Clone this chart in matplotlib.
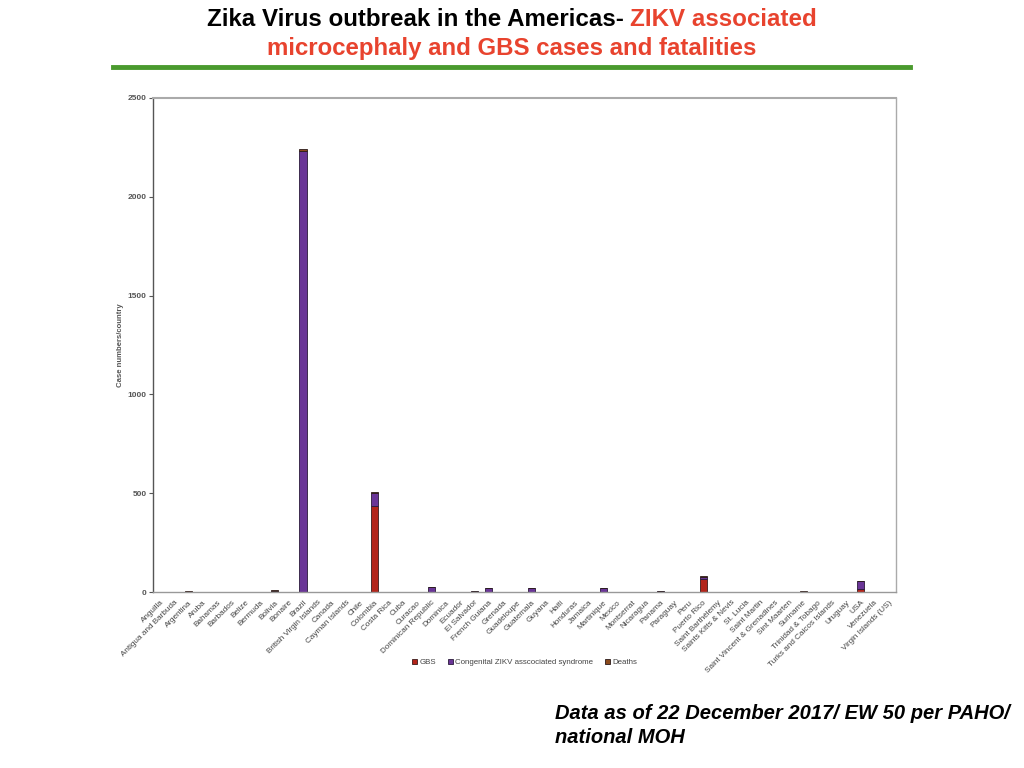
import numpy as np
import matplotlib.pyplot as plt

plt.rcParams['font.family'] = ['Liberation Sans', 'DejaVu Sans']

# Countries and case counts
countries = ['Anguilla', 'Antigua and Barbuda', 'Argentina', 'Aruba', 'Bahamas',
             'Barbados', 'Belize', 'Bermuda', 'Bolivia', 'Bonaire', 'Brazil',
             'British Virgin Islands', 'Canada', 'Cayman Islands', 'Chile',
             'Colombia', 'Costa Rica', 'Cuba', 'Curacao', 'Dominican Republic',
             'Dominica', 'Ecuador', 'El Salvador', 'French Guiana', 'Grenada',
             'Guadeloupe', 'Guatemala', 'Guyana', 'Haiti', 'Honduras', 'Jamaica',
             'Martinique', 'Mexico', 'Montserrat', 'Nicaragua', 'Panama',
             'Paraguay', 'Peru', 'Puerto Rico', 'Saint Barthélemy',
             'Saints Kitts & Nevis', 'St. Lucia', 'Saint Martin',
             'Saint Vincent & Grenadines', 'Sint Maarten', 'Suriname',
             'Trinidad & Tobago', 'Turks and Caicos Islands', 'Uruguay', 'USA',
             'Venezuela', 'Virgin Islands (US)']

gbs = [0, 0, 0, 0, 0,
       0, 0, 0, 0, 0, 0,
       0, 0, 0, 0,
       435, 0, 0, 0, 0,
       0, 0, 0, 0, 0,
       0, 0, 0, 0, 0, 0,
       0, 0, 0, 0, 0,
       0, 0, 67, 0,
       0, 0, 0,
       0, 0, 0,
       0, 0, 0, 14,
       0, 0]

congenital = [0, 0, 3, 0, 0,
              0, 0, 0, 7, 0, 2230,
              0, 3, 0, 0,
              68, 3, 0, 0, 25,
              0, 0, 4, 20, 3,
              3, 20, 0, 3, 3, 0,
              20, 3, 0, 0, 5,
              3, 0, 8, 0,
              0, 0, 0,
              0, 3, 2,
              3, 0, 0, 42,
              0, 0]

deaths = [0, 0, 1, 0, 0,
          0, 0, 0, 2, 0, 12,
          0, 0, 0, 0,
          2, 0, 0, 0, 2,
          0, 0, 1, 1, 0,
          0, 1, 0, 0, 0, 0,
          1, 0, 0, 0, 0,
          0, 0, 6, 0,
          0, 0, 0,
          0, 0, 3,
          0, 0, 0, 2,
          0, 0]

yticks = [0, 500, 1000, 1500, 2000, 2500]

c_gbs = '#b3241a'
c_cong = '#6a3597'
c_death = '#8b4a1c'
red = '#e8432e'

fig = plt.figure(figsize=(10.24, 7.68), dpi=100)
ax = fig.add_axes([0.1494, 0.229, 0.7256, 0.6434])

x = np.arange(len(countries))
gbs = np.array(gbs)
congenital = np.array(congenital)
deaths = np.array(deaths)

ax.bar(x, gbs, width=0.5, color=c_gbs, edgecolor='#3a1a1a', linewidth=0.6, label='GBS')
ax.bar(x, congenital, width=0.5, bottom=gbs, color=c_cong, edgecolor='#2a1a3a',
       linewidth=0.6, label='Congenital ZIKV asscociated syndrome')
ax.bar(x, deaths, width=0.5, bottom=gbs + congenital, color=c_death, edgecolor='#2a1a1a',
       linewidth=0.6, label='Deaths')

ax.set_xlim(-0.5, len(countries) - 0.5)
ax.set_ylim(0, 2500)
ax.set_yticks(yticks)
ax.set_yticklabels([str(v) for v in yticks], fontsize=6, fontweight='bold', color='#555555')
ax.set_xticks(x)
ax.set_xticklabels(countries, rotation=45, ha='right', rotation_mode='anchor',
                   fontsize=5.9, color='#444444')
ax.tick_params(axis='x', length=0, pad=5)
ax.tick_params(axis='y', length=3, width=0.8, color='#555555', pad=1.5)
ax.set_ylabel('Case numbers/country', fontsize=5.6, fontweight='bold', color='#555555', labelpad=3)

ax.spines['left'].set_color('#555555')
ax.spines['bottom'].set_color('#999999')
ax.spines['top'].set_color('#aaaaaa')
ax.spines['right'].set_color('#aaaaaa')
ax.spines['top'].set_linewidth(1.5)
for s in ['left', 'bottom', 'right']:
    ax.spines[s].set_linewidth(1.0)

ax.legend(loc='upper center', bbox_to_anchor=(0.5, -0.12), ncol=3, frameon=False,
          fontsize=5.7, handlelength=0.6, handleheight=0.6, handletextpad=0.3,
          columnspacing=1.5, labelcolor='#444444')

# Title
t1 = fig.text(0.202, 0.99, 'Zika Virus outbreak in the Americas- ', fontsize=17.4,
              fontweight='bold', color='black', ha='left', va='top')
fig.canvas.draw()
bb = t1.get_window_extent()
fig.text(bb.x1 / fig.bbox.width, 0.99, 'ZIKV associated', fontsize=17.4,
         fontweight='bold', color=red, ha='left', va='top')
fig.text(0.5, 0.952, 'microcephaly and GBS cases and fatalities', fontsize=17.3,
         fontweight='bold', color=red, ha='center', va='top')
fig.add_artist(plt.Line2D([0.11, 0.889], [0.913, 0.913], color='#4a9a2e', linewidth=3.5))

fig.text(0.542, 0.083, 'Data as of 22 December 2017/ EW 50 per PAHO/\nnational MOH',
         fontsize=14.5, fontweight='bold', style='italic', ha='left', va='top',
         linespacing=1.3)

plt.savefig('out.png', dpi=100)
